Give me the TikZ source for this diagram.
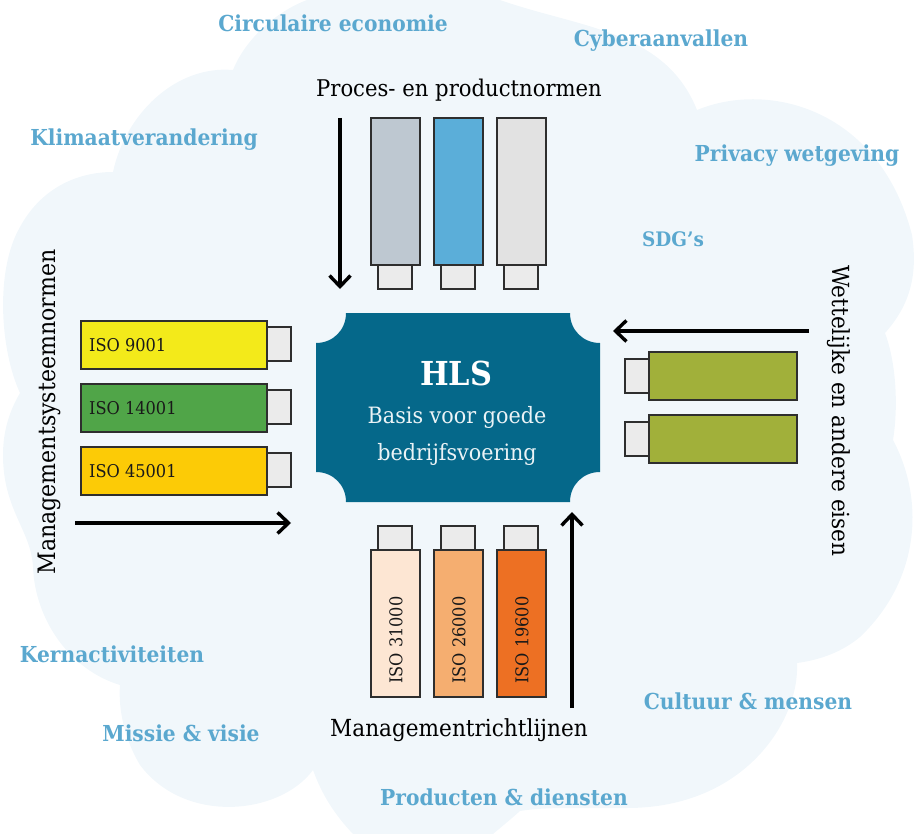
\documentclass[tikz,border=0pt]{standalone}
\usepackage{fontspec}
\setmainfont{DejaVu Serif}[FakeStretch=0.92]
\usetikzlibrary{arrows.meta}
\definecolor{cloudc}{HTML}{F1F7FB}
\definecolor{labelc}{HTML}{5BA8CF}
\definecolor{hlsc}{HTML}{05688A}
\definecolor{tabc}{HTML}{EBEBEB}
\definecolor{edgec}{HTML}{2E2E2E}
\tikzset{
  x=1pt,y=-1pt,
  cloudlabel/.style={font=\bfseries\fontsize{22}{26}\selectfont,text=labelc,inner sep=0pt},
  heading/.style={font=\fontsize{23.5}{27}\selectfont,text=black,inner sep=0pt},
  bar/.style={draw=edgec,line width=1.1pt,inner sep=0pt,outer sep=0pt,anchor=north west},
  barv/.style={bar,minimum width=49pt,minimum height=147pt},
  barh/.style={bar,minimum width=186pt,minimum height=48pt},
  tabv/.style={bar,fill=tabc,minimum width=34pt,minimum height=24pt},
  tabh/.style={bar,fill=tabc,minimum width=24pt,minimum height=34pt},
  isotext/.style={font=\fontsize{17.6}{20}\selectfont,text=black!90,inner sep=0pt},
  hlstext/.style={font=\fontsize{22.5}{26}\selectfont,text=white!92!hlsc,inner sep=0pt},
  flow/.style={line width=3.6pt,-{Straight Barb[length=11pt,width=21pt,line width=3.4pt]}},
}
\begin{document}
\begin{tikzpicture}
\useasboundingbox (0,0) rectangle (915,834);
% cloud
\fill[cloudc]
  (233,70) .. controls (245,40) and (275,12) .. (307,0)
  -- (500,0) .. controls (580,28) and (665,30) .. (697,110)
  .. controls (770,80) and (880,110) .. (912,235)
  .. controls (918,275) and (910,305) .. (885,333)
  .. controls (897,365) and (898,410) .. (893,440)
  .. controls (925,500) and (920,580) .. (860,637)
  .. controls (842,652) and (820,660) .. (797,663)
  .. controls (800,720) and (745,808) .. (627,808)
  .. controls (590,809) and (550,806) .. (520,811)
  .. controls (510,820) and (500,828) .. (493,834)
  -- (353,834) .. controls (335,815) and (322,795) .. (313,770)
  .. controls (280,815) and (185,825) .. (140,765)
  .. controls (125,740) and (118,710) .. (120,685)
  .. controls (70,670) and (35,620) .. (33,567)
  .. controls (31,530) and (3,510) .. (3,455)
  .. controls (3,430) and (10,410) .. (20,393)
  .. controls (0,350) and (-5,270) .. (20,227)
  .. controls (40,190) and (75,172) .. (113,172)
  .. controls (125,115) and (175,65) .. (233,70)
  -- cycle;
% bars, top
\node[barv,fill={rgb,255:red,190;green,200;blue,209}] (t1) at (371,118) {};
\node[barv,fill={rgb,255:red,91;green,174;blue,217}] (t2) at (434,118) {};
\node[barv,fill={rgb,255:red,226;green,226;blue,226}] (t3) at (497,118) {};
\foreach \n/\x in {tt1/378,tt2/441,tt3/504}
  \node[tabv] (\n) at (\x,265) {};
% bars, left
\node[barh,fill={rgb,255:red,243;green,234;blue,26}] (l1) at (81,321) {};
\node[barh,fill={rgb,255:red,80;green,165;blue,72}] (l2) at (81,384) {};
\node[barh,fill={rgb,255:red,252;green,203;blue,6}] (l3) at (81,447) {};
\foreach \n/\y in {lt1/327,lt2/390,lt3/453}
  \node[tabh] (\n) at (267,\y) {};
\node[isotext,anchor=west] (li1) at (89,345) {ISO 9001};
\node[isotext,anchor=west] (li2) at (89,408) {ISO 14001};
\node[isotext,anchor=west] (li3) at (89,471) {ISO 45001};
% bars, bottom
\node[barv,fill={rgb,255:red,253;green,230;blue,211}] (b1) at (371,550) {};
\node[barv,fill={rgb,255:red,245;green,174;blue,112}] (b2) at (434,550) {};
\node[barv,fill={rgb,255:red,237;green,112;blue,35}] (b3) at (497,550) {};
\foreach \n/\x in {bt1/378,bt2/441,bt3/504}
  \node[tabv] (\n) at (\x,526) {};
\node[isotext,rotate=90,anchor=west] (bi1) at (396,684) {ISO 31000};
\node[isotext,rotate=90,anchor=west] (bi2) at (459,684) {ISO 26000};
\node[isotext,rotate=90,anchor=west] (bi3) at (522,684) {ISO 19600};
% bars, right
\node[bar,minimum width=148pt,minimum height=48pt,fill={rgb,255:red,161;green,176;blue,58}] (r1) at (649,352) {};
\node[bar,minimum width=148pt,minimum height=48pt,fill={rgb,255:red,161;green,176;blue,58}] (r2) at (649,415) {};
\foreach \n/\y in {rt1/359,rt2/422}
  \node[tabh] (\n) at (625,\y) {};
% HLS plate
\fill[hlsc] (346,313) -- (570,313) .. controls (570,330) and (583,343) .. (600,343)
  -- (600,472) .. controls (583,472) and (570,485) .. (570,502)
  -- (346,502) .. controls (346,485) and (333,472) .. (316,472)
  -- (316,343) .. controls (333,343) and (346,330) .. (346,313) -- cycle;
\node[font=\bfseries\fontsize{33}{38}\selectfont,text=white,inner sep=0pt] (hls) at (456,373) {HLS};
\node[hlstext] (hls2) at (457,417) {Basis voor goede};
\node[hlstext] (hls3) at (457,454) {bedrijfsvoering};
% headings
\node[heading,font=\fontsize{23}{27}\selectfont] (hp) at (459,90) {Proces- en productnormen};
\node[heading] (hm) at (459,730) {Managementrichtlijnen};
\node[heading,font=\fontsize{24}{27}\selectfont,rotate=90] (hs) at (49,412) {Managementsysteemnormen};
\node[heading,rotate=-90] (hw) at (839,411) {Wettelijke en andere eisen};
% arrows
\coordinate (a1s) at (340,118); \coordinate (a1e) at (340,289);
\coordinate (a2s) at (75,523); \coordinate (a2e) at (291,523);
\coordinate (a3s) at (572,708); \coordinate (a3e) at (572,512);
\coordinate (a4s) at (809,331); \coordinate (a4e) at (613,331);
\draw[flow] (a1s) -- (a1e);
\draw[flow] (a2s) -- (a2e);
\draw[flow] (a3s) -- (a3e);
\draw[flow] (a4s) -- (a4e);
% cloud labels
\node[cloudlabel] (c1) at (333,23) {Circulaire economie};
\node[cloudlabel] (c2) at (661,41) {Cyberaanvallen};
\node[cloudlabel] (c3) at (144,140) {Klimaatverandering};
\node[cloudlabel] (c4) at (797,156) {Privacy wetgeving};
\node[cloudlabel,font=\bfseries\fontsize{20}{24}\selectfont] (c5) at (673,239) {SDG's};
\node[cloudlabel] (c6) at (112,654) {Kernactiviteiten};
\node[cloudlabel] (c7) at (181,733) {Missie \& visie};
\node[cloudlabel] (c8) at (748,701) {Cultuur \& mensen};
\node[cloudlabel] (c9) at (504,797) {Producten \& diensten};
\end{tikzpicture}
\end{document}
